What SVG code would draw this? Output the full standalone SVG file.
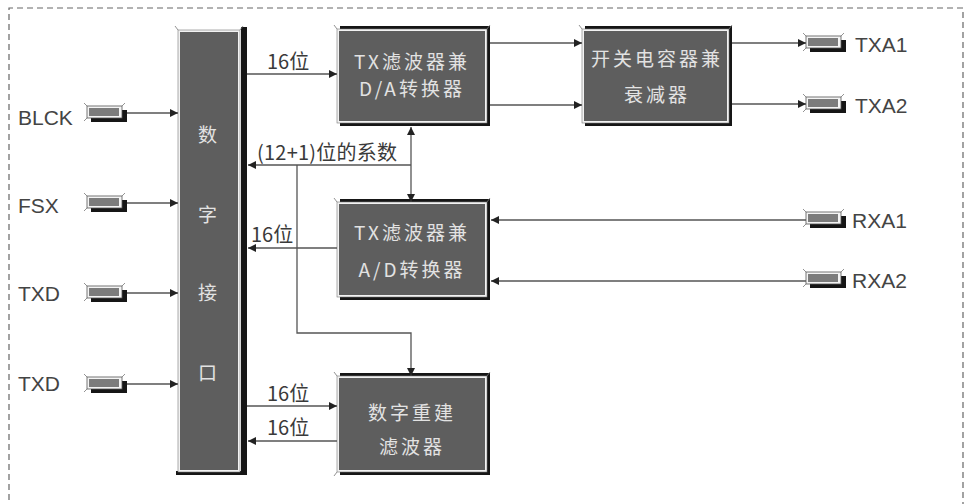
<svg xmlns="http://www.w3.org/2000/svg" width="970" height="504" viewBox="0 0 970 504">
<style>
.lbl{font-family:"Liberation Sans","Noto Sans CJK SC",sans-serif;fill:#444;font-size:21px}
.cjk{font-family:"Noto Sans CJK SC","Liberation Sans",sans-serif;fill:#3a3a3a;font-size:20px}
.btxt{font-family:"Noto Sans CJK SC","Liberation Sans",sans-serif;fill:#e2e2e2;font-size:19px;text-anchor:middle;letter-spacing:3px}
.shadow{fill:#161616}
.frame{fill:#f2f2f2;stroke:#777;stroke-width:0.6}
.body{fill:#5e5e5e}
.tick{stroke:#777;stroke-width:0.8;fill:none}
.conn{stroke:#555;stroke-width:1.3;fill:none}
</style>
<defs>
<marker id="ah" viewBox="0 0 10 10" refX="10" refY="5" markerWidth="8" markerHeight="8" markerUnits="userSpaceOnUse" orient="auto-start-reverse">
<path d="M0,0 L10,5 L0,10 z" fill="#222"/>
</marker>
<g id="pin">
<rect x="4" y="-3" width="36" height="12" class="shadow"/>
<rect x="0" y="-7" width="35" height="12" fill="#f4f4f4" stroke="#555" stroke-width="0.8"/>
<rect x="2" y="-5" width="30" height="8" fill="#7c7c7c"/>
<path d="M0,-7 L-3,-10 M35,-7 L38,-10 M0,5 L-3,8" class="tick"/>
</g>
</defs>
<rect width="970" height="504" fill="#ffffff"/>
<path d="M9,520 L9,8 L963,8 L963,520" fill="none" stroke="#666" stroke-width="1.2" stroke-dasharray="6,4"/>

<g id="interface">
<rect x="241" y="27" width="6" height="448" class="shadow"/>
<rect x="176" y="471" width="71" height="4" class="shadow"/>
<rect x="178" y="30" width="62" height="442" class="frame"/>
<rect x="180" y="32" width="58" height="438" class="body"/>
<path d="M178,30 L175,26 M240,30 L243,26" class="tick"/>
<text class="btxt" x="209" y="142">数</text>
<text class="btxt" x="209" y="222">字</text>
<text class="btxt" x="209" y="300">接</text>
<text class="btxt" x="209" y="380">口</text>
</g>

<g id="tx_da">
<rect x="340" y="26" width="150" height="100" class="shadow"/>
<rect x="337" y="29" width="150" height="94" class="frame"/>
<rect x="339" y="31" width="146" height="90" class="body"/>
<path d="M337,29 L334,25 M487,29 L490,25" class="tick"/>
<text class="btxt" x="412" y="69">TX滤波器兼</text>
<text class="btxt" x="412" y="96">D/A转换器</text>
</g>

<g id="sc_atten">
<rect x="585" y="26" width="147" height="100" class="shadow"/>
<rect x="582" y="29" width="147" height="94" class="frame"/>
<rect x="584" y="31" width="143" height="90" class="body"/>
<path d="M582,29 L579,25 M729,29 L732,25" class="tick"/>
<text class="btxt" x="657" y="66">开关电容器兼</text>
<text class="btxt" x="657" y="102">衰减器</text>
</g>

<g id="tx_ad">
<rect x="340" y="199" width="150" height="101" class="shadow"/>
<rect x="337" y="202" width="150" height="95" class="frame"/>
<rect x="339" y="204" width="146" height="91" class="body"/>
<path d="M337,202 L334,198 M487,202 L490,198" class="tick"/>
<text class="btxt" x="412" y="240">TX滤波器兼</text>
<text class="btxt" x="412" y="277">A/D转换器</text>
</g>

<g id="recon">
<rect x="340" y="373" width="150" height="102" class="shadow"/>
<rect x="337" y="376" width="150" height="96" class="frame"/>
<rect x="339" y="378" width="146" height="92" class="body"/>
<path d="M337,376 L334,372 M487,376 L490,372 M337,472 L334,476" class="tick"/>
<text class="btxt" x="412" y="420">数字重建</text>
<text class="btxt" x="412" y="454">滤波器</text>
</g>

<g id="pin_blck"><use href="#pin" transform="translate(87,113)"/><text class="lbl" x="18" y="125">BLCK</text></g>
<g id="pin_fsx"><use href="#pin" transform="translate(87,203)"/><text class="lbl" x="18" y="213">FSX</text></g>
<g id="pin_txd1"><use href="#pin" transform="translate(87,293)"/><text class="lbl" x="18" y="301">TXD</text></g>
<g id="pin_txd2"><use href="#pin" transform="translate(87,384)"/><text class="lbl" x="18" y="391">TXD</text></g>
<g id="pin_txa1"><use href="#pin" transform="translate(806,43)"/><text class="lbl" x="855" y="52">TXA1</text></g>
<g id="pin_txa2"><use href="#pin" transform="translate(806,104)"/><text class="lbl" x="855" y="113">TXA2</text></g>
<g id="pin_rxa1"><use href="#pin" transform="translate(806,219)"/><text class="lbl" x="852" y="228">RXA1</text></g>
<g id="pin_rxa2"><use href="#pin" transform="translate(806,279)"/><text class="lbl" x="852" y="288">RXA2</text></g>

<g id="connectors">
<line class="conn" x1="127" y1="113" x2="178" y2="113" marker-end="url(#ah)"/>
<line class="conn" x1="127" y1="203" x2="178" y2="203" marker-end="url(#ah)"/>
<line class="conn" x1="127" y1="293" x2="178" y2="293" marker-end="url(#ah)"/>
<line class="conn" x1="127" y1="384" x2="178" y2="384" marker-end="url(#ah)"/>
<line class="conn" x1="247" y1="74" x2="337" y2="74" marker-end="url(#ah)"/>
<line class="conn" x1="490" y1="43" x2="582" y2="43" marker-end="url(#ah)"/>
<line class="conn" x1="490" y1="105" x2="582" y2="105" marker-end="url(#ah)"/>
<line class="conn" x1="732" y1="43" x2="806" y2="43" marker-end="url(#ah)"/>
<line class="conn" x1="732" y1="104" x2="806" y2="104" marker-end="url(#ah)"/>
<line class="conn" x1="806" y1="220" x2="491" y2="220" marker-end="url(#ah)"/>
<line class="conn" x1="806" y1="281" x2="491" y2="281" marker-end="url(#ah)"/>
<line class="conn" x1="411" y1="127" x2="411" y2="202" marker-start="url(#ah)" marker-end="url(#ah)"/>
<line class="conn" x1="411" y1="165" x2="248" y2="165" marker-end="url(#ah)"/>
<path class="conn" d="M297,165 L297,333 L411,333 L411,376" marker-end="url(#ah)"/>
<line class="conn" x1="337" y1="248" x2="248" y2="248" marker-end="url(#ah)"/>
<line class="conn" x1="247" y1="406" x2="337" y2="406" marker-end="url(#ah)"/>
<line class="conn" x1="337" y1="441" x2="248" y2="441" marker-end="url(#ah)"/>
<text class="cjk" x="267" y="69">16位</text>
<text class="cjk" x="257" y="160" textLength="140">(12+1)位的系数</text>
<text class="cjk" x="251" y="242">16位</text>
<text class="cjk" x="267" y="401">16位</text>
<text class="cjk" x="267" y="435">16位</text>
</g>
</svg>
